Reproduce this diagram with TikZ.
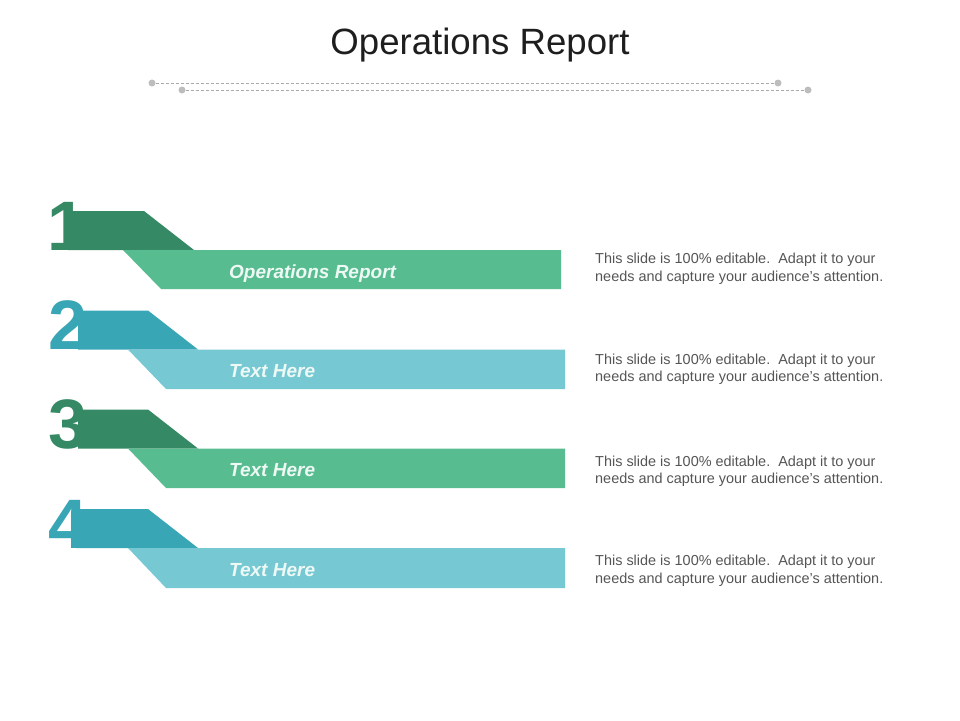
\documentclass[tikz,border=0pt]{standalone}
\usepackage{fontspec}
\setmainfont{Liberation Sans}
\usetikzlibrary{positioning}
\definecolor{darkgreen}{HTML}{358965}
\definecolor{lightgreen}{HTML}{57BC8F}
\definecolor{darkteal}{HTML}{39A6B5}
\definecolor{lightteal}{HTML}{76C8D3}
\definecolor{dotgray}{HTML}{BDBDBD}
\definecolor{linegray}{HTML}{AAAAAA}
\definecolor{bodygray}{HTML}{555555}
\definecolor{titleblack}{HTML}{1E1E1E}
\definecolor{labelwhite}{HTML}{EEF9F5}
\tikzset{
  dot/.style={circle, fill=dotgray, inner sep=0pt, minimum size=7pt},
  guide/.style={densely dashed, draw=linegray, line width=0.6pt},
  numfig/.style={anchor=base west, inner sep=0pt, font=\fontsize{70}{70}\selectfont\bfseries},
  barlabel/.style={anchor=base west, inner sep=0pt, text=labelwhite, font=\fontsize{19}{19}\selectfont\bfseries\itshape},
  blurb/.style={anchor=north west, inner sep=0pt, text=bodygray, align=left, font=\fontsize{14.45}{17.6}\selectfont},
}

\begin{document}
\begin{tikzpicture}[x=1pt, y=-1pt]
\useasboundingbox (0,0) rectangle (960,720);
% title and the two guide lines
\node (title) at (480,54)[anchor=base, inner sep=0pt, text=titleblack, font=\fontsize{36.6}{37}\selectfont]{Operations Report};
\node (d1a) at (152,83)[dot]{};
\node (d1b) at (778,83)[dot]{};
\node (d2a) at (182,90)[dot]{};
\node (d2b) at (808,90)[dot]{};
\draw [guide](d1a)--(d1b);
\draw [guide](d2a)--(d2b);
% ribbon 1
\fill [darkgreen](68,211)--(144,211)--(194,250)--(68,250)--cycle;
\fill [lightgreen](123,250)--(561,250)--(561,289)--(161,289)--cycle;
\node (num1) at (47,250)[numfig, text=darkgreen]{1};
\node (lab1) at (229,278)[barlabel]{Operations Report};
\node (note1) at (595,253)[blurb]{This slide is 100\% editable.\ \ Adapt it to your\\needs and capture your audience's attention.};
% ribbon 2
\fill [darkteal](78,310.5)--(148,310.5)--(198,349.5)--(78,349.5)--cycle;
\fill [lightteal](128,349.5)--(565,349.5)--(565,389)--(166,389)--cycle;
\node (num2) at (48,349.5)[numfig, text=darkteal]{2};
\node (lab2) at (229,377.5)[barlabel]{Text Here};
\node (note2) at (595,353.5)[blurb]{This slide is 100\% editable.\ \ Adapt it to your\\needs and capture your audience's attention.};
% ribbon 3
\fill [darkgreen](78,409.5)--(148,409.5)--(198,448.5)--(78,448.5)--cycle;
\fill [lightgreen](128,448.5)--(565,448.5)--(565,488)--(166,488)--cycle;
\node (num3) at (48,448.5)[numfig, text=darkgreen]{3};
\node (lab3) at (229,476.5)[barlabel]{Text Here};
\node (note3) at (595,455.5)[blurb]{This slide is 100\% editable.\ \ Adapt it to your\\needs and capture your audience's attention.};
% ribbon 4
\fill [darkteal](76,509)--(148,509)--(198,548)--(76,548)--cycle;
\fill [lightteal](128,548)--(565,548)--(565,588)--(166,588)--cycle;
\node (num4) at (48,548)[numfig, text=darkteal]{4};
\node (lab4) at (229,576)[barlabel]{Text Here};
\node (note4) at (595,555)[blurb]{This slide is 100\% editable.\ \ Adapt it to your\\needs and capture your audience's attention.};
\end{tikzpicture}
\end{document}
